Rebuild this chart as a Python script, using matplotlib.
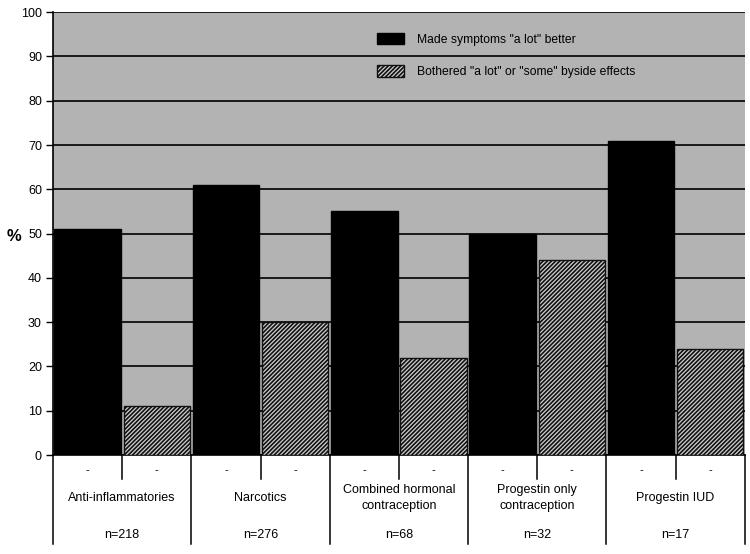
import matplotlib.pyplot as plt
import matplotlib.transforms as mtransforms
from matplotlib.patches import Patch

plt.rcParams['font.family'] = ['Liberation Sans', 'DejaVu Sans']
plt.rcParams['hatch.linewidth'] = 1.2

categories = ["Anti-inflammatories", "Narcotics", "Combined hormonal\ncontraception",
              "Progestin only\ncontraception", "Progestin IUD"]
n_labels = ["n=218", "n=276", "n=68", "n=32", "n=17"]
better = [51, 61, 55, 50, 71]
side_effects = [11, 30, 22, 44, 24]
series_names = ['Made symptoms "a lot" better', 'Bothered "a lot" or "some" byside effects']

fig = plt.figure(figsize=(7.5, 5.54), dpi=100)
ax = fig.add_axes([0.0707, 0.1787, 0.9223, 0.7993])
ax.set_facecolor('#b3b3b3')

x = list(range(len(categories)))
w = 0.48
ax.bar([i - 0.25 for i in x], better, width=w, color='black', edgecolor='black', zorder=3)
ax.bar([i + 0.25 for i in x], side_effects, width=w, color='#cfcfcf', edgecolor='#111111',
       hatch='////////', linewidth=1.0, zorder=3)

ax.set_xlim(-0.5, len(categories) - 0.5)
ax.set_ylim(0, 100)
ax.set_yticks(range(0, 101, 10))
ax.tick_params(axis='y', labelsize=9, length=5, width=1, pad=3)
ax.set_xticks([])
ax.yaxis.grid(True, color='black', linewidth=1.2, zorder=1)
ax.set_axisbelow(True)
for s in ['top', 'right']:
    ax.spines[s].set_visible(False)
ax.spines['left'].set_linewidth(1.2)
ax.spines['bottom'].set_linewidth(1.2)

fig.text(0.009, 0.573, '%', fontsize=12, fontweight='bold', ha='left', va='center')

# category table below the axis
trans = mtransforms.blended_transform_factory(ax.transData, ax.transAxes)
for b in range(len(categories) + 1):
    ax.plot([b - 0.5, b - 0.5], [0, -0.20], transform=trans, color='black',
            linewidth=1.1, clip_on=False)
for i in x:
    ax.plot([i, i], [0, -0.055], transform=trans, color='black', linewidth=1.1, clip_on=False)
    for dx in (-0.25, 0.25):
        ax.text(i + dx, -0.034, '-', transform=trans, ha='center', va='center', fontsize=8)
    ax.text(i, -0.097, categories[i], transform=trans, ha='center', va='center', fontsize=9,
            linespacing=1.4)
    ax.text(i, -0.181, n_labels[i], transform=trans, ha='center', va='center', fontsize=9)

handles = [Patch(facecolor='black', edgecolor='black'),
           Patch(facecolor='#cfcfcf', edgecolor='#111111', hatch='////////')]
ax.legend(handles, series_names, loc='upper left', bbox_to_anchor=(0.453, 0.978),
          frameon=False, fontsize=8.7, handlelength=2.2, handleheight=1.1,
          labelspacing=1.6, handletextpad=1.1)

fig.savefig('out.png', dpi=100)
